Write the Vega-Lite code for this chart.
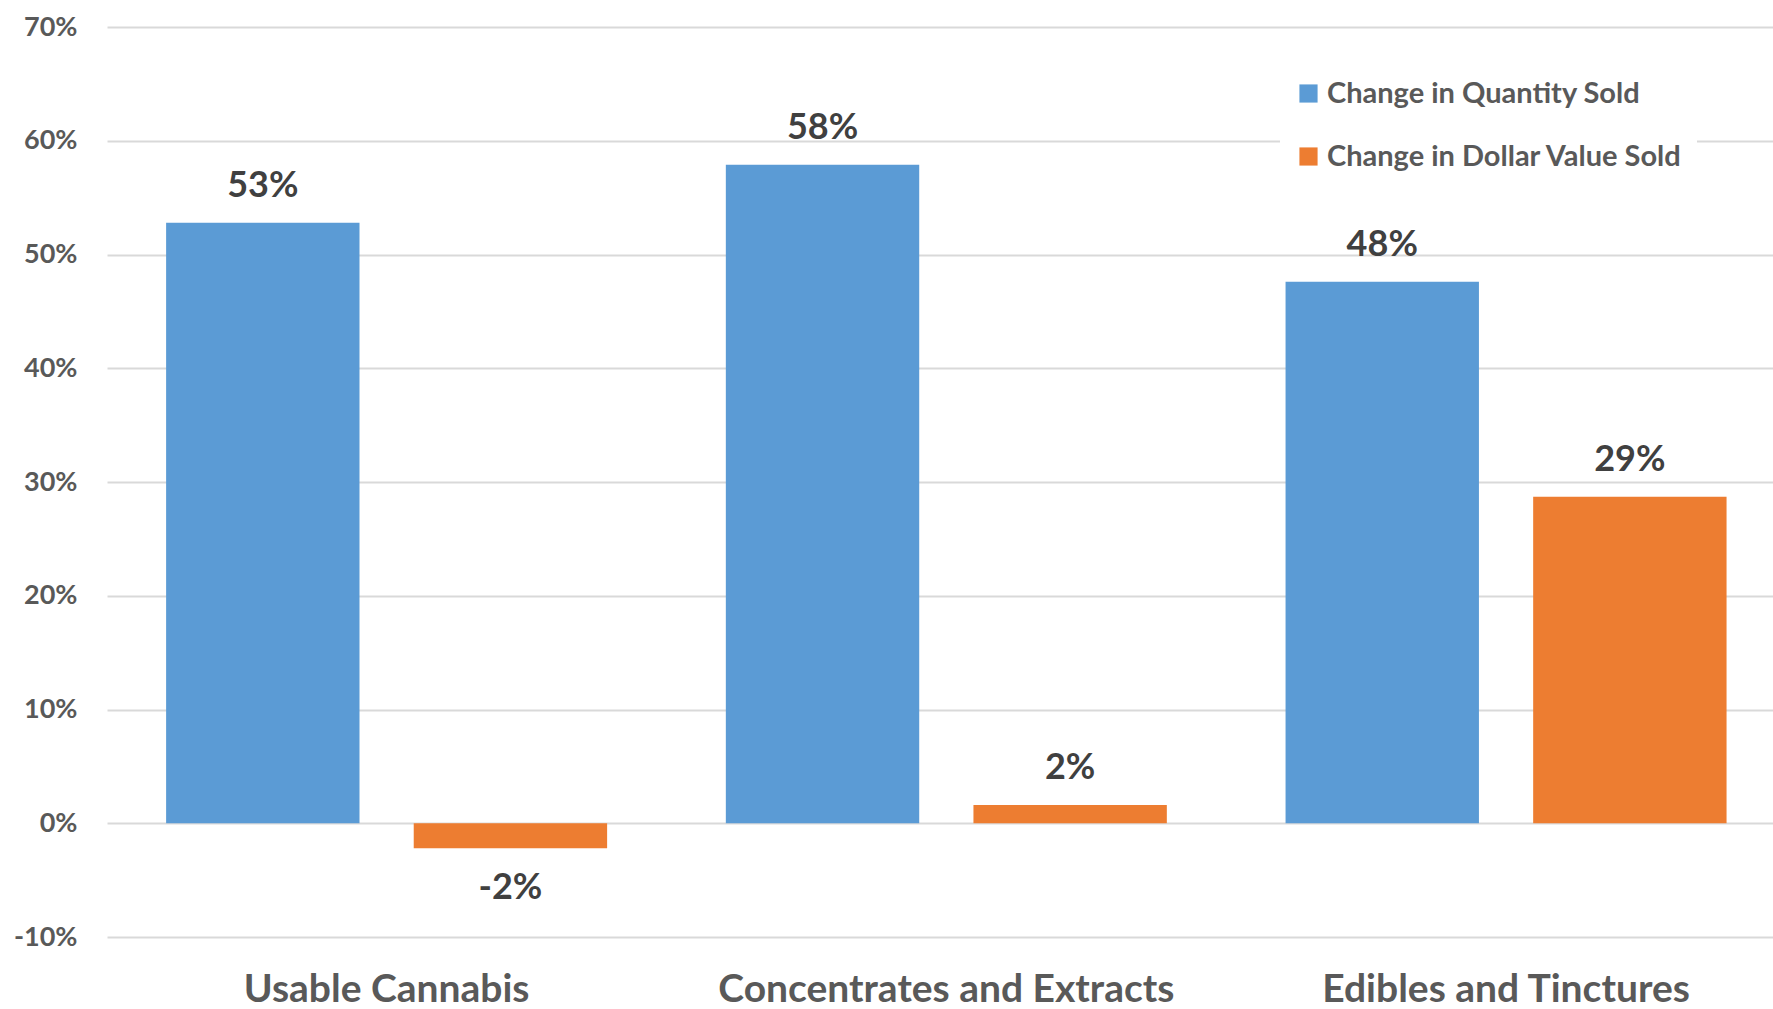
{
  "$schema": "https://vega.github.io/schema/vega-lite/v6.json",
  "autosize": {"type": "none"},
  "padding": {"left": 107, "top": 27, "right": 0, "bottom": 72},
  "width": 1666,
  "height": 910,
  "background": "white",
  "config": {
    "view": {"stroke": null},
    "font": "Lato",
    "axis": {"labelFont": "Lato", "labelFontWeight": "bold", "labelColor": "#595959"}
  },
  "data": {
    "values": [
      {"category": "Usable Cannabis", "series": "Change in Quantity Sold", "value": 0.528},
      {"category": "Usable Cannabis", "series": "Change in Dollar Value Sold", "value": -0.022},
      {"category": "Concentrates and Extracts", "series": "Change in Quantity Sold", "value": 0.579},
      {"category": "Concentrates and Extracts", "series": "Change in Dollar Value Sold", "value": 0.016},
      {"category": "Edibles and Tinctures", "series": "Change in Quantity Sold", "value": 0.476},
      {"category": "Edibles and Tinctures", "series": "Change in Dollar Value Sold", "value": 0.287}
    ]
  },
  "encoding": {
    "x": {
      "field": "category", "type": "nominal", "sort": null,
      "scale": {"paddingInner": 0.2121, "paddingOuter": 0.0943, "align": 0.56},
      "axis": {"title": null, "labelAngle": 0, "labelFontSize": 39, "labelPadding": 33, "labelLimit": 800, "ticks": false, "domain": false, "grid": false}
    },
    "xOffset": {
      "field": "series", "type": "nominal",
      "sort": ["Change in Quantity Sold", "Change in Dollar Value Sold"],
      "scale": {"paddingInner": 0.219, "paddingOuter": 0}
    },
    "y": {
      "field": "value", "type": "quantitative",
      "scale": {"domain": [-0.1, 0.7], "nice": false, "zero": false},
      "axis": {"title": null, "format": ".0%", "labelExpr": "replace(datum.label, '\u2212', '-')", "values": [-0.1, 0, 0.1, 0.2, 0.3, 0.4, 0.5, 0.6, 0.7], "labelFontSize": 27, "labelPadding": 30, "ticks": false, "domain": false, "gridColor": "#D9D9D9", "gridWidth": 2}
    }
  },
  "layer": [
    {
      "mark": {"type": "bar"},
      "encoding": {
        "color": {
          "field": "series", "type": "nominal",
          "sort": ["Change in Quantity Sold", "Change in Dollar Value Sold"],
          "scale": {"domain": ["Change in Quantity Sold", "Change in Dollar Value Sold"], "range": ["#5B9BD5", "#ED7D31"]},
          "legend": {
            "title": null, "orient": "none", "legendX": 1173, "legendY": 38,
            "symbolType": "square", "symbolSize": 330, "labelFontSize": 29, "labelFont": "Lato", "labelFontWeight": "bold",
            "labelColor": "#595959", "rowPadding": 33, "fillColor": "white", "padding": 14, "labelOffset": 4, "labelLimit": 700
          }
        }
      }
    },
    {
      "transform": [{"filter": "datum.value >= 0"}],
      "mark": {"type": "text", "baseline": "middle", "dy": -37, "fontSize": 36, "fontWeight": "bold", "color": "#404040", "text": {"expr": "replace(format(datum.value, '.0%'), '\u2212', '-')"}}
    },
    {
      "transform": [{"filter": "datum.value < 0"}],
      "mark": {"type": "text", "baseline": "middle", "dy": 40, "fontSize": 36, "fontWeight": "bold", "color": "#404040", "text": {"expr": "replace(format(datum.value, '.0%'), '\u2212', '-')"}}
    }
  ]
}
